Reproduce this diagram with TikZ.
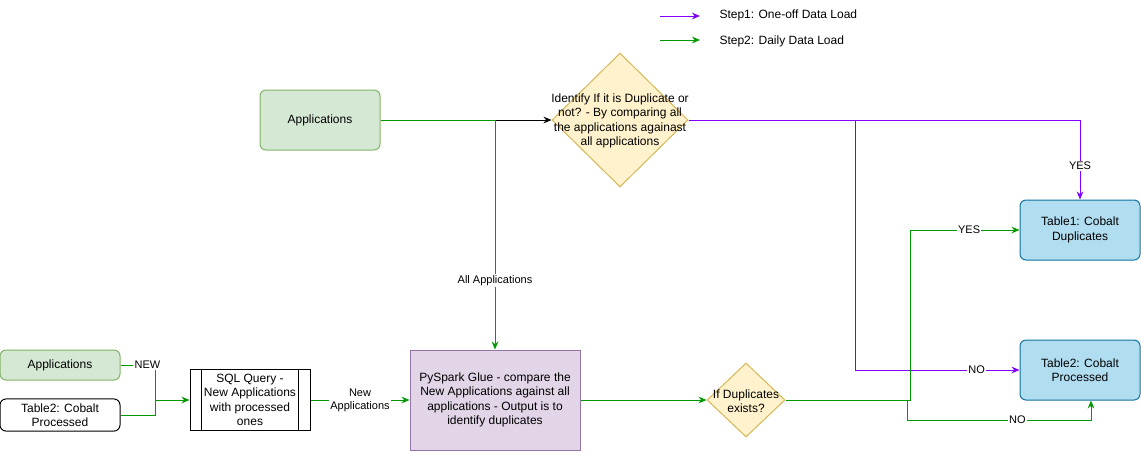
\documentclass[tikz,border=0pt]{standalone}
\usepackage{fontspec}
\setmainfont{Liberation Sans}
\usetikzlibrary{shapes.geometric}
\usetikzlibrary{arrows.meta}
\definecolor{grnfill}{HTML}{D5E8D4}
\definecolor{grnline}{HTML}{82B366}
\definecolor{ylwfill}{HTML}{FFF2CC}
\definecolor{ylwline}{HTML}{D6B656}
\definecolor{vltfill}{HTML}{E1D5E7}
\definecolor{vltline}{HTML}{9673A6}
\definecolor{bluefill}{HTML}{B1DDF0}
\definecolor{blueline}{HTML}{10739E}
\definecolor{flowgrn}{HTML}{009900}
\definecolor{flowprp}{HTML}{7F00FF}
\tikzset{
  appnode/.style= {draw=grnline, fill=grnfill, rounded corners=4.5pt, minimum width=90pt, align=center},
  tblnode/.style= {draw=blueline, fill=bluefill, rounded corners=4.5pt, minimum width=90pt, minimum height=45pt, align=center},
  decide/.style= {draw=ylwline, fill=ylwfill, diamond, inner sep=0pt},
  txt/.style= {align=center, inner sep=0pt},
  lbl/.style= {fill=white, inner sep=1pt, font=\fontsize{8.25}{9.9}\selectfont, align=center},
  grnflow/.style= {draw=flowgrn, -{Stealth[length=6pt,width=5pt]}},
  prpflow/.style= {draw=flowprp, -{Stealth[length=6pt,width=5pt]}},
  blkflow/.style= {draw=black, -{Stealth[length=6pt,width=5pt]}},
}

\begin{document}
\begin{tikzpicture}[x=0.75pt, y=-0.75pt, line width=0.75pt, font=\fontsize{9}{10.8}\selectfont]
  \useasboundingbox (0,0) rectangle (1141,451);

  % legend
  \coordinate (leg1a) at (660,16);
  \coordinate (leg1b) at (700,16);
  \coordinate (leg2a) at (660,40);
  \coordinate (leg2b) at (700,40);
  \draw [prpflow] (leg1a) -- (leg1b);
  \draw [grnflow] (leg2a) -- (leg2b);
  \node [anchor=west, inner sep=0pt] (leg1) at (719,15) {Step1: One-off Data Load};
  \node [anchor=west, inner sep=0pt] (leg2) at (719,41) {Step2: Daily Data Load};

  % nodes
  \node [appnode, minimum height=45pt] (apptop) at (320,120) {Applications};
  \node [decide, minimum width=102pt, minimum height=100.5pt] (dupall) at (620,120) {};
  \node [txt] (dupalltxt) at (620,121) {Identify If it is Duplicate or\\not? - By comparing all\\the applications againast\\all applications};
  \node [appnode, minimum height=22.5pt] (appnew) at (60,365) {Applications};
  \node [draw, rounded corners=4.5pt, minimum width=90pt, minimum height=22.5pt, align=center] (procin) at (60,415) {Table2: Cobalt\\Processed};
  \node [draw, fill=white, minimum width=90pt, minimum height=45pt, align=center] (sql) at (250,400) {SQL Query -\\New Applications\\with processed\\ones};
  \draw ([xshift=9pt]sql.north west) -- ([xshift=9pt]sql.south west);
  \draw ([xshift=-9pt]sql.north east) -- ([xshift=-9pt]sql.south east);
  \node [draw=vltline, fill=vltfill, minimum width=127.5pt, minimum height=75pt, align=center] (glue) at (495,400) {PySpark Glue - compare the\\New Applications against all\\applications - Output is to\\identify duplicates};
  \node [decide, minimum width=58.5pt, minimum height=55.5pt] (dupnew) at (746,400) {};
  \node [txt] (dupnewtxt) at (746,401) {If Duplicates\\exists?};
  \node [tblnode] (dupout) at (1080,230) {Table1: Cobalt\\Duplicates};
  \node [tblnode] (procout) at (1080,370) {Table2: Cobalt\\Processed};

  \coordinate (merge) at (155,400);
  \coordinate (prpturn) at (855,120);
  \coordinate (yesturn) at (910,400);
  \coordinate (noturn) at (907,420);

  % step 1
  \draw [blkflow] (apptop) -- (dupall.west);
  \draw [prpflow] (dupall.east) -| node [lbl, pos=0.79] {YES} (dupout.north);
  \draw [prpflow] (dupall.east) -- (prpturn) |- node [lbl, pos=0.87] {NO} (procout.west);

  % step 2
  \draw [grnflow] (apptop.east) -| node [lbl, pos=0.85] {All Applications} (glue.north);
  \draw [draw=flowgrn] (appnew.east) -| node [lbl, pos=0.39] {NEW} (merge);
  \draw [draw=flowgrn] (procin.east) -| (merge);
  \draw [grnflow] (merge) -- (sql.west);
  \draw [grnflow] (sql) -- node [lbl] {New\\Applications} (glue);
  \draw [grnflow] (glue) -- (dupnew.west);
  \draw [grnflow] (dupnew.east) -- (yesturn) |- node [lbl, pos=0.77] {YES} (dupout.west);
  \draw [grnflow] (dupnew.east) -| (noturn) -| node [lbl, pos=0.3] {NO} ([xshift=8.25pt]procout.south);
\end{tikzpicture}
\end{document}
